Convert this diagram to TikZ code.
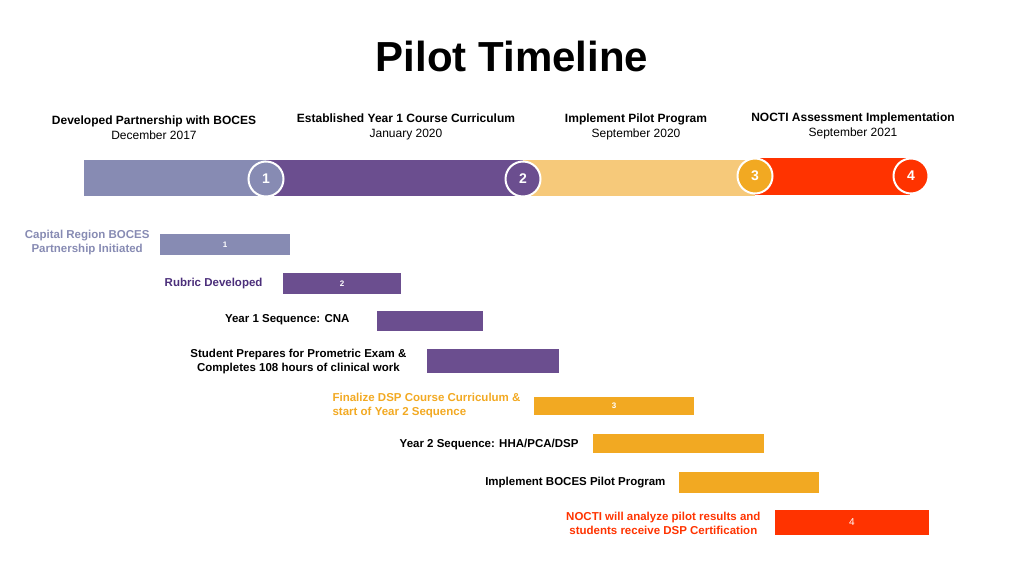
\documentclass[tikz,border=0pt]{standalone}
\usepackage{fontspec}
\setmainfont{Liberation Sans}
\definecolor{cgray}{HTML}{878BB3}
\definecolor{cpurp}{HTML}{6B4E8F}
\definecolor{ctan}{HTML}{F6C97A}
\definecolor{corange}{HTML}{F2A922}
\definecolor{cred}{HTML}{FF3300}
\definecolor{cdpurp}{HTML}{4B2E7A}
\begin{document}
\begin{tikzpicture}[x=1pt,y=-1pt,
  seg/.style={draw=none},
  circ/.style={circle,draw=white,line width=2pt,minimum size=35pt,inner sep=0pt,text=white,font=\fontsize{14}{16}\selectfont\bfseries},
  hd/.style={align=center,font=\fontsize{12}{15}\selectfont},
  bar/.style={draw=none,inner sep=0pt,text=white,font=\fontsize{8}{9}\selectfont\bfseries},
  lab/.style={anchor=east,align=left,font=\fontsize{11.5}{14}\selectfont\bfseries}]
\useasboundingbox (0,0) rectangle (1024,575);
\node[font=\fontsize{42}{48}\selectfont\bfseries] (title) at (512,56) {Pilot Timeline};
\node[hd] (h1) at (154,128) {\textbf{Developed Partnership with BOCES}\\December 2017};
\node[hd] (h2) at (406,127) {\textbf{Established Year 1 Course Curriculum}\\January 2020};
\node[hd] (h3) at (636,127) {\textbf{Implement Pilot Program}\\September 2020};
\node[hd] (h4) at (853,126) {\textbf{NOCTI Assessment Implementation}\\September 2021};
\fill[cgray] (84,160) rectangle (266,196);
\fill[cpurp] (266,160) rectangle (523,196);
\fill[ctan] (523,160) rectangle (755,196);
\fill[cred] (755,158) rectangle (910,195);
\node[circ,fill=cgray] (c1) at (266,179) {1};
\node[circ,fill=cpurp] (c2) at (523,179) {2};
\node[circ,fill=corange] (c3) at (755,176) {3};
\node[circ,fill=cred] (c4) at (911,176) {4};
\node[bar,fill=cgray,minimum width=130pt,minimum height=21pt] (b1) at (225,244.5) {1};
\node[bar,fill=cpurp,minimum width=118pt,minimum height=21pt] (b2) at (342,283.5) {2};
\node[bar,fill=cpurp,minimum width=106pt,minimum height=20pt] (b3) at (430,321) {};
\node[bar,fill=cpurp,minimum width=132pt,minimum height=24pt] (b4) at (493,361) {};
\node[bar,fill=corange,minimum width=160pt,minimum height=18pt] (b5) at (614,405.5) {3};
\node[bar,fill=corange,minimum width=171pt,minimum height=19pt] (b6) at (678.5,443.5) {};
\node[bar,fill=corange,minimum width=140pt,minimum height=21pt] (b7) at (749,482.5) {};
\node[bar,fill=cred,minimum width=154pt,minimum height=25pt] (b8) at (852,522.5) {\mdseries\fontsize{10}{11}\selectfont 4};
\node[lab,align=center,text=cgray] (l1) at (153,243) {Capital Region BOCES\\Partnership Initiated};
\node[lab,text=cdpurp] (l2) at (266,284) {Rubric Developed};
\node[lab] (l3) at (353,320) {Year 1 Sequence: CNA};
\node[lab,align=center] (l4) at (410,362) {Student Prepares for Prometric Exam \&\\ Completes 108 hours of clinical work};
\node[lab,text=corange] (l5) at (524,406) {Finalize DSP Course Curriculum \&\\start of Year 2 Sequence};
\node[lab] (l6) at (582,445) {Year 2 Sequence: HHA/PCA/DSP};
\node[lab] (l7) at (669,483) {Implement BOCES Pilot Program};
\node[lab,align=center,text=cred] (l8) at (764,523) {NOCTI will analyze pilot results and\\students receive DSP Certification};
\end{tikzpicture}
\end{document}
